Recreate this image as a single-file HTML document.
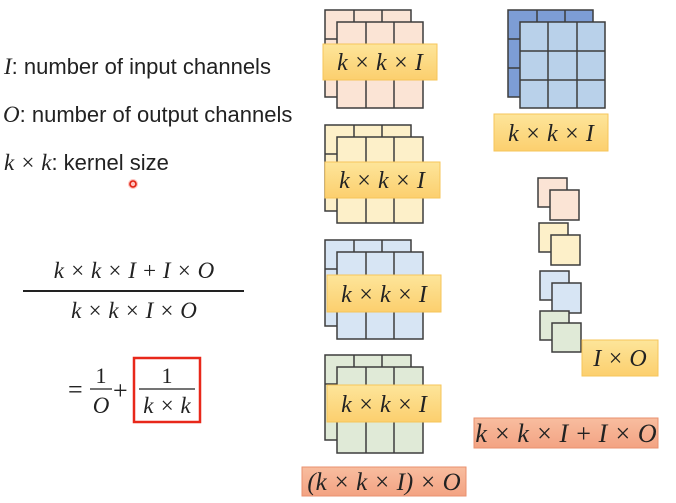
<!DOCTYPE html>
<html><head><meta charset="utf-8"><style>
html,body{margin:0;padding:0;background:#fff;}
svg{display:block;}
.m{font-family:"Liberation Serif",serif;font-style:italic;fill:#222;}
.u{font-family:"Liberation Serif",serif;fill:#222;}
.s{font-family:"Liberation Sans",sans-serif;fill:#222;font-size:22px;}
</style></head><body>
<svg width="676" height="503" viewBox="0 0 676 503" xmlns="http://www.w3.org/2000/svg">
<defs>
<linearGradient id="lab" x1="0" y1="0" x2="0" y2="1"><stop offset="0" stop-color="#fde59a"/><stop offset="1" stop-color="#fccf6e"/></linearGradient>
<linearGradient id="sal" x1="0" y1="0" x2="0" y2="1"><stop offset="0" stop-color="#f8bd9f"/><stop offset="1" stop-color="#f3a383"/></linearGradient>
</defs>
<g stroke="#3d3d3d" stroke-width="1.5">
<g fill="#fbe4d5">
<rect x="325" y="10" width="86" height="87"/><line x1="354" y1="10" x2="354" y2="22"/><line x1="382" y1="10" x2="382" y2="22"/><line x1="325" y1="39" x2="337" y2="39"/><line x1="325" y1="68" x2="337" y2="68"/>
<rect x="337" y="22" width="86" height="86"/><line x1="366" y1="22" x2="366" y2="108"/><line x1="394" y1="22" x2="394" y2="108"/>
</g>
<g fill="#fdf0c9">
<rect x="325" y="125" width="86" height="86"/><line x1="354" y1="125" x2="354" y2="137"/><line x1="382" y1="125" x2="382" y2="137"/><line x1="325" y1="154" x2="337" y2="154"/>
<rect x="337" y="137" width="86" height="86"/><line x1="366" y1="137" x2="366" y2="223"/><line x1="394" y1="137" x2="394" y2="223"/>
</g>
<g fill="#d7e5f4">
<rect x="325" y="240" width="86" height="86"/><line x1="354" y1="240" x2="354" y2="252"/><line x1="382" y1="240" x2="382" y2="252"/><line x1="325" y1="269" x2="337" y2="269"/>
<rect x="337" y="252" width="86" height="87"/><line x1="366" y1="252" x2="366" y2="339"/><line x1="394" y1="252" x2="394" y2="339"/>
</g>
<g fill="#e0ead7">
<rect x="325" y="355" width="86" height="85"/><line x1="354" y1="355" x2="354" y2="367"/><line x1="382" y1="355" x2="382" y2="367"/><line x1="325" y1="384" x2="337" y2="384"/>
<rect x="337" y="367" width="86" height="86"/><line x1="366" y1="367" x2="366" y2="453"/><line x1="394" y1="367" x2="394" y2="453"/>
</g>
<rect x="508" y="10" width="85" height="87" fill="#7d9dd5"/><line x1="537" y1="10" x2="537" y2="22"/><line x1="565" y1="10" x2="565" y2="22"/><line x1="508" y1="39" x2="520" y2="39"/><line x1="508" y1="68" x2="520" y2="68"/>
<rect x="520" y="22" width="85" height="86" fill="#b9d1ea"/>
<line x1="548" y1="22" x2="548" y2="108"/><line x1="577" y1="22" x2="577" y2="108"/><line x1="520" y1="51" x2="605" y2="51"/><line x1="520" y1="80" x2="605" y2="80"/>
<rect x="538" y="178" width="29" height="29" fill="#fbe4d5"/><rect x="550" y="190" width="29" height="30" fill="#fbe4d5"/>
<rect x="539" y="223" width="29" height="29" fill="#fdf0c9"/><rect x="551" y="235" width="29" height="30" fill="#fdf0c9"/>
<rect x="540" y="271" width="29" height="29" fill="#d7e5f4"/><rect x="552" y="283" width="29" height="30" fill="#d7e5f4"/>
<rect x="540" y="311" width="29" height="29" fill="#e0ead7"/><rect x="552" y="323" width="29" height="29" fill="#e0ead7"/>
</g>
<g stroke="#f6c55a" stroke-width="1" fill="url(#lab)">
<rect x="323" y="44" width="114" height="36"/>
<rect x="325" y="162" width="115" height="36"/>
<rect x="327" y="275" width="114" height="37"/>
<rect x="327" y="385" width="114" height="37"/>
<rect x="494" y="114" width="114" height="37"/>
<rect x="582" y="340" width="76" height="36"/>
</g>
<g stroke="#e9916f" stroke-width="1" fill="url(#sal)">
<rect x="302" y="467" width="164" height="29"/>
<rect x="474" y="418" width="184" height="30"/>
</g>
<g class="m" font-size="24" text-anchor="middle">
<text x="380" y="70">k × k × I</text>
<text x="382" y="188">k × k × I</text>
<text x="384" y="302">k × k × I</text>
<text x="384" y="412">k × k × I</text>
<text x="551" y="141">k × k × I</text>
<text x="620" y="366">I × O</text>
<text x="384" y="490" font-size="25">(k × k × I) × O</text>
<text x="566" y="442" font-size="26">k × k × I + I × O</text>
</g>
<text class="s" x="4" y="74"><tspan class="m" font-size="23">I</tspan>: number of input channels</text>
<text class="s" x="3" y="122"><tspan class="m" font-size="23">O</tspan>: number of output channels</text>
<text class="s" x="4" y="170"><tspan class="m" font-size="23">k × k</tspan>: kernel size</text>
<circle cx="133" cy="184" r="5" fill="#ff8a80" opacity="0.5"/>
<circle cx="133" cy="184" r="3" fill="none" stroke="#e02010" stroke-width="1.6"/>
<g class="m" font-size="23" text-anchor="middle">
<text x="134" y="278">k × k × I + I × O</text>
<text x="134" y="318">k × k × I × O</text>
</g>
<line x1="23" y1="291" x2="244" y2="291" stroke="#222" stroke-width="2"/>
<text class="u" x="68" y="398" font-size="26">=</text>
<text class="u" x="101" y="383" font-size="22" text-anchor="middle">1</text>
<line x1="90" y1="389" x2="112" y2="389" stroke="#222" stroke-width="1.3"/>
<text class="m" x="101" y="413" font-size="23" text-anchor="middle">O</text>
<text class="u" x="113" y="399" font-size="26">+</text>
<text class="u" x="167" y="383" font-size="22" text-anchor="middle">1</text>
<line x1="139" y1="389" x2="195" y2="389" stroke="#222" stroke-width="1.3"/>
<text class="m" x="167" y="413" font-size="23" text-anchor="middle">k × k</text>
<rect x="134" y="358" width="66" height="64" fill="none" stroke="#e8281a" stroke-width="2.5"/>
</svg>
</body></html>
